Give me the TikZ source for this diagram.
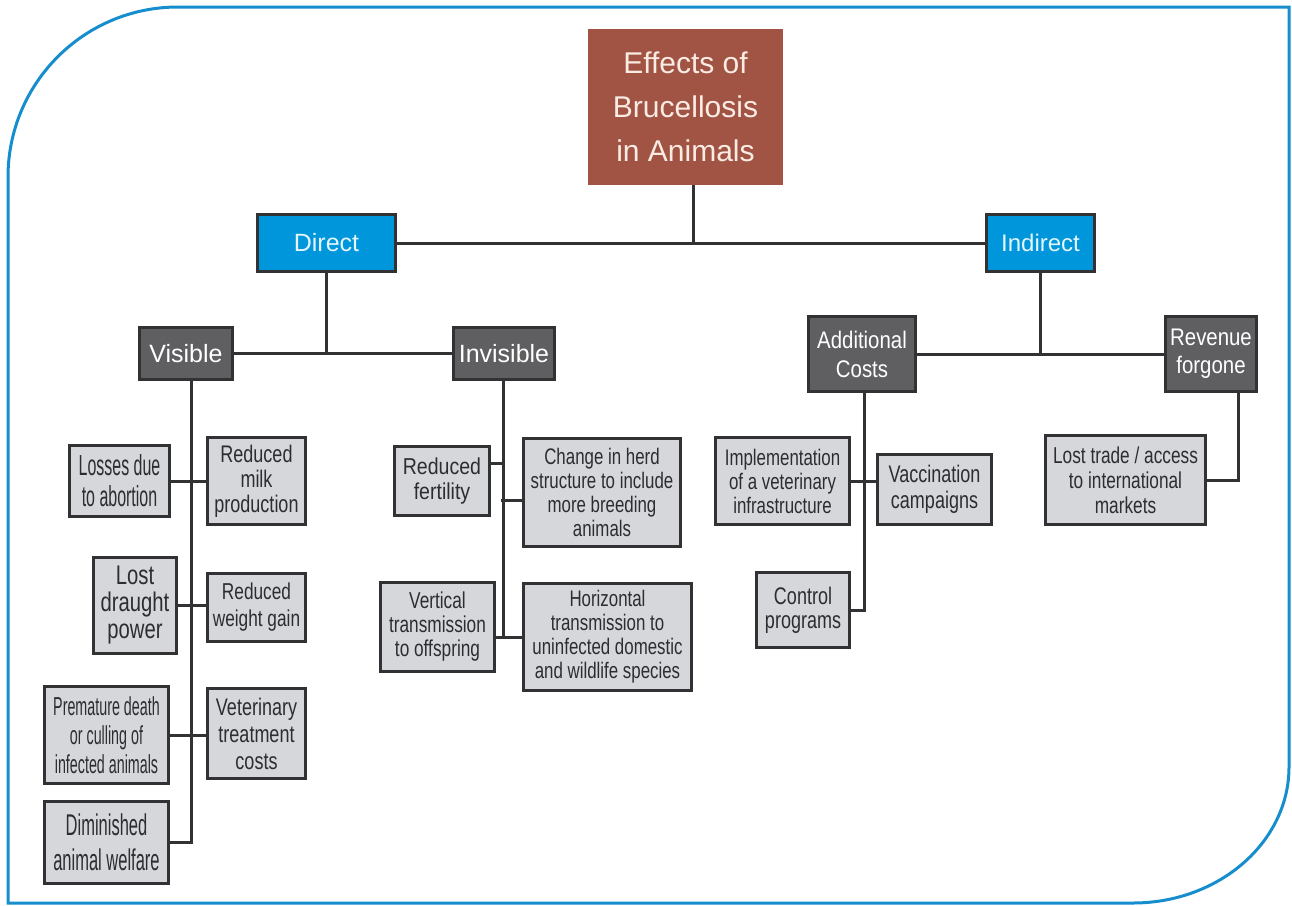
\documentclass[tikz,border=0pt]{standalone}
\usepackage{fontspec}
\setmainfont{Liberation Sans}
\newfontfamily\fA{Liberation Sans}[FakeStretch=0.55]
\newfontfamily\fB{Liberation Sans}[FakeStretch=0.62]
\newfontfamily\fC{Liberation Sans}[FakeStretch=0.75]
\newfontfamily\fD{Liberation Sans}[FakeStretch=0.85]
\definecolor{edge}{RGB}{50,50,52}
\definecolor{lightg}{RGB}{214,215,219}
\definecolor{darkg}{RGB}{95,95,98}
\definecolor{blueb}{RGB}{0,150,219}
\definecolor{bluetxt}{RGB}{228,245,253}
\definecolor{titlebg}{RGB}{162,84,68}
\definecolor{titletxt}{RGB}{250,236,228}
\definecolor{txt}{RGB}{45,45,48}
\definecolor{frame}{RGB}{22,142,206}
\tikzset{
  box/.style={draw=edge, line width=3.5pt, inner sep=0pt, align=center},
  lbox/.style={box, fill=lightg, text=txt},
  dbox/.style={box, fill=darkg, text=white},
  bbox/.style={box, fill=blueb, text=bluetxt},
  conn/.style={draw=edge, line width=3pt},
  sz/.style 2 args={minimum width=#1pt, minimum height=#2pt}
}
\begin{document}
\begin{tikzpicture}[x=1pt,y=-1pt]
\useasboundingbox (0,0) rectangle (1292,905);
% frame
\draw[frame, line width=3pt] (8,903) -- (8,177) .. controls (8,83) and (84,7) .. (178,7)
  -- (1289,7) -- (1289,767) .. controls (1289,842) and (1219,903) .. (1133,903) -- cycle;

% title
\node[fill=titlebg, text=titletxt, inner sep=0pt, align=center, sz={195}{156},
  font=\fontsize{30}{44}\selectfont] (title) at (685.5,107) {Effects of\\Brucellosis\\in Animals};

% level 1
\node[bbox, sz={138}{57}, font=\fontsize{25}{28}\selectfont] (direct) at (326.5,243) {Direct};
\node[bbox, sz={108}{57}, font=\fontsize{24}{28}\selectfont] (indirect) at (1040.5,243) {Indirect};

% level 2
\node[dbox, sz={93}{52}, font=\fontsize{25}{28}\selectfont] (visible) at (186,353.5) {Visible};
\node[dbox, sz={101}{52}, font=\fontsize{25}{28}\selectfont] (invisible) at (504,353.5) {Invisible};
\node[dbox, sz={107}{75}, font=\fD\fontsize{24}{29}\selectfont] (additional) at (862,354) {Additional\\Costs};
\node[dbox, sz={91}{75}, font=\fD\fontsize{24}{28}\selectfont] (revenue) at (1211,354) {Revenue\\forgone};

% visible children
\node[lbox, sz={100}{71}, font=\fA\fontsize{29}{31}\selectfont] (losses) at (119.5,481) {Losses due\\to abortion};
\node[lbox, sz={98}{87}, font=\fC\fontsize{24}{25}\selectfont] (milk) at (256.5,481) {Reduced\\milk\\production};
\node[lbox, sz={83}{96}, font=\fC\fontsize{27}{27}\selectfont] (draught) at (135,605.5) {Lost\\draught\\power};
\node[lbox, sz={98}{68}, font=\fC\fontsize{23}{27}\selectfont] (weight) at (256.5,607.5) {Reduced\\weight gain};
\node[lbox, sz={124}{97}, font=\fA\fontsize{26}{29}\selectfont] (premature) at (106.5,735) {Premature death\\or culling of\\infected animals};
\node[lbox, sz={98}{90}, font=\fC\fontsize{24}{27}\selectfont] (veterinary) at (256.5,733.5) {Veterinary\\treatment\\costs};
\node[lbox, sz={124}{82}, font=\fA\fontsize{30}{35}\selectfont] (diminished) at (106.5,842.5) {Diminished\\animal welfare};

% invisible children
\node[lbox, sz={95}{69}, font=\fD\fontsize{23}{25}\selectfont] (fertility) at (442,481) {Reduced\\fertility};
\node[lbox, sz={157}{108}, font=\fC\fontsize{22.5}{24}\selectfont] (herd) at (602,492.5) {Change in herd\\structure to include\\more breeding\\animals};
\node[lbox, sz={114}{89}, font=\fC\fontsize{23}{24}\selectfont] (vertical) at (437.5,627) {Vertical\\transmission\\to offspring};
\node[lbox, sz={168}{107}, font=\fC\fontsize{22.5}{24}\selectfont] (horizontal) at (607.5,637) {Horizontal\\transmission to\\uninfected domestic\\and wildlife species};

% additional costs children
\node[lbox, sz={134}{87}, font=\fC\fontsize{22.5}{24}\selectfont] (implementation) at (782.5,481) {Implementation\\of a veterinary\\infrastructure};
\node[lbox, sz={114}{70}, font=\fC\fontsize{24}{26}\selectfont] (vaccination) at (934.5,489.5) {Vaccination\\campaigns};
\node[lbox, sz={93}{75}, font=\fC\fontsize{24}{24}\selectfont] (control) at (803,610) {Control\\programs};

% revenue children
\node[lbox, sz={160}{89}, font=\fC\fontsize{23}{25}\selectfont] (losttrade) at (1125.5,480) {Lost trade / access\\to international\\markets};

% helper coordinates
\coordinate (tx) at (693,0);
\coordinate (tj) at (693,243);
\coordinate (vx) at (191,0);
\coordinate (ix) at (503,0);
\coordinate (ax) at (864,0);
\coordinate (rx) at (1238,0);

% connectors
\draw[conn] (title.south -| tx) -- (tj);
\draw[conn] (direct.east) -- (indirect.west);
\draw[conn] (direct.south) -- (direct.south |- visible.east);
\draw[conn] (visible.east) -- (invisible.west);
\draw[conn] (indirect.south) -- (indirect.south |- additional.east);
\draw[conn] (additional.east) -- (revenue.west);

\draw[conn] (visible.south -| vx) |- (diminished.east);
\draw[conn] (losses.east) -- (milk.west);
\draw[conn] (draught.east) -- (draught.east -| weight.west);
\draw[conn] (premature.east) -- (premature.east -| veterinary.west);

\draw[conn] (invisible.south -| ix) -- (ix |- horizontal.west);
\draw[conn] ([yshift=18pt]fertility.east) -- ++(12,0);
\draw[conn] ([yshift=-7.5pt]herd.west) -- ++(-20.5,0);
\draw[conn] (vertical.east |- horizontal.west) -- (horizontal.west);

\draw[conn] (additional.south -| ax) |- (control.east);
\draw[conn] (implementation.east) -- (implementation.east -| vaccination.west);

\draw[conn] (revenue.south -| rx) |- (losttrade.east);
\end{tikzpicture}
\end{document}
